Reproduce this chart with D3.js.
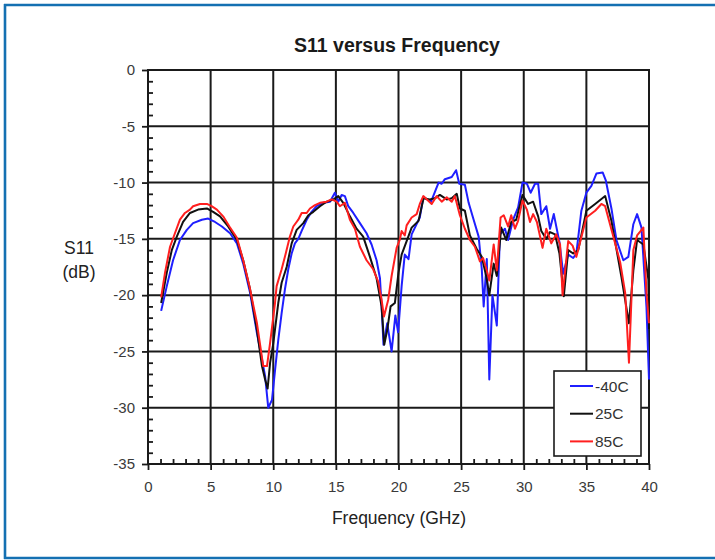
<!DOCTYPE html>
<html><head><meta charset="utf-8">
<script src="https://cdn.jsdelivr.net/npm/d3@7"></script>
<style>
html,body{margin:0;padding:0;background:#fff;}
svg{display:block;}
text{font-family:"Liberation Sans",Arial,sans-serif;}
</style></head>
<body>
<svg id="chart" width="715" height="560"></svg>
<script>
// ---------- data ----------
const seriesNames = ["-40C", "25C", "85C"];
const seriesColors = ["#1f1fff", "#111111", "#ff1f1f"];

const freqM40 = [1.05,1.5,2.0,2.55,3.1,3.6,4.3,4.8,5.35,5.9,6.55,7.1,7.6,8.15,8.7,9.1,9.35,9.6,9.9,10.15,10.4,10.67,10.93,11.2,11.47,11.73,12.0,12.27,12.67,13.06,13.46,13.99,14.53,14.92,15.19,15.46,15.72,15.99,16.39,16.92,17.45,17.85,18.25,18.52,18.7,18.8,19.1,19.45,19.75,19.97,20.25,20.5,20.8,21.05,21.7,21.98,22.6,23.2,23.45,23.7,24.25,24.6,24.85,25.3,25.6,26.0,26.4,26.65,26.8,27.05,27.25,27.5,27.85,28.1,28.5,28.75,29.15,29.55,29.9,30.25,30.55,30.9,31.15,31.4,31.8,32.1,32.4,32.85,33.15,33.55,33.95,34.2,34.6,35.0,35.4,35.8,36.3,36.55,37.0,37.4,37.95,38.35,38.75,39.05,39.4,39.8,40.0];
const s11M40  = [-21.4,-19.2,-16.9,-15.1,-14.2,-13.6,-13.3,-13.2,-13.5,-13.9,-14.5,-15.4,-17.2,-19.8,-23.4,-25.7,-27.2,-30.0,-29.3,-26.6,-24.0,-21.6,-19.5,-17.7,-16.3,-15.4,-15.0,-14.3,-13.3,-12.6,-12.1,-11.8,-11.7,-10.9,-11.7,-11.1,-11.2,-12.1,-12.7,-13.6,-14.5,-15.5,-16.9,-18.5,-22.0,-24.4,-22.5,-25.0,-21.8,-23.3,-19.2,-16.4,-16.8,-14.6,-13.1,-11.3,-11.7,-10.0,-10.1,-9.7,-9.5,-8.9,-10.1,-10.2,-11.8,-13.3,-14.8,-17.7,-21.0,-16.8,-27.5,-20.0,-22.7,-14.6,-14.1,-15.1,-13.3,-12.2,-10.0,-10.1,-10.9,-10.1,-10.1,-12.8,-12.1,-14.1,-12.8,-15.3,-18.1,-16.4,-16.7,-16.3,-12.5,-10.9,-10.3,-9.2,-9.1,-9.8,-12.3,-15.1,-16.9,-16.6,-13.7,-12.8,-14.0,-21.1,-27.5];

const freq25 = [1.05,1.5,1.9,2.3,2.8,3.35,4.0,4.7,5.2,5.75,6.4,7.1,7.6,8.15,8.7,9.1,9.35,9.55,9.75,10.0,10.4,10.67,11.07,11.47,11.87,12.4,12.8,13.2,13.73,14.26,14.79,15.19,15.59,16.12,16.65,17.18,17.72,18.25,18.65,18.86,19.1,19.37,19.71,20.0,20.25,20.65,21.05,21.6,22.0,22.5,22.9,23.3,23.85,24.25,24.65,24.9,25.3,25.7,26.25,26.65,27.0,27.25,27.6,27.85,28.2,28.6,29.0,29.4,29.9,30.35,30.75,31.15,31.4,31.8,32.1,32.5,32.85,33.2,33.55,33.95,34.35,35.0,35.7,36.5,37.0,37.8,38.4,38.75,39.05,39.55,39.95,40.0];
const s1125  = [-20.7,-18.0,-16.0,-14.8,-13.5,-12.7,-12.4,-12.3,-12.6,-13.0,-13.9,-15.1,-16.9,-19.5,-23.1,-26.3,-27.5,-28.3,-26.0,-24.3,-20.7,-18.9,-17.5,-15.4,-14.2,-13.6,-12.9,-12.6,-12.1,-11.7,-11.5,-11.2,-11.8,-13.0,-14.1,-14.8,-16.6,-18.5,-21.0,-24.4,-23.1,-21.0,-20.7,-18.0,-16.4,-15.2,-14.0,-13.4,-11.4,-11.5,-11.4,-11.1,-11.5,-11.4,-11.0,-12.3,-12.5,-14.7,-15.9,-16.6,-18.3,-20.0,-17.2,-18.3,-14.0,-15.1,-13.5,-13.3,-11.1,-11.9,-11.7,-13.0,-14.3,-15.0,-14.4,-14.6,-16.3,-20.1,-16.0,-16.3,-16.0,-12.5,-11.9,-11.2,-13.4,-18.4,-22.5,-17.8,-15.1,-15.5,-18.6,-23.0];

const freq85 = [1.05,1.36,1.76,2.15,2.55,2.95,3.35,3.6,4.15,4.7,5.08,5.5,6.0,6.5,7.1,7.6,8.1,8.7,9.2,9.5,9.74,10.14,10.27,10.67,10.93,11.33,11.6,12.0,12.27,12.67,12.93,13.33,13.73,14.26,14.66,15.06,15.32,15.72,16.12,16.52,16.92,17.45,17.98,18.38,18.65,18.84,19.18,19.45,19.85,20.1,20.25,20.5,20.65,21.05,21.45,21.7,21.98,22.65,23.05,23.45,23.85,24.25,24.5,24.9,25.3,25.7,26.1,26.5,26.75,27.0,27.25,27.6,27.85,28.15,28.4,28.75,29.0,29.3,29.55,29.9,30.25,30.5,30.75,31.05,31.5,31.8,32.2,32.6,32.9,33.1,33.55,33.9,34.2,35.0,35.7,36.2,36.5,37.15,37.7,38.1,38.4,38.75,39.05,39.55,39.8,40.0];
const s1185  = [-20.2,-18.0,-15.7,-14.5,-13.3,-12.7,-12.4,-12.1,-11.9,-11.9,-12.1,-12.4,-13.0,-13.9,-14.9,-16.9,-19.2,-22.5,-26.3,-26.3,-24.3,-20.7,-19.2,-17.7,-16.6,-14.8,-13.9,-13.3,-12.7,-12.7,-12.3,-12.0,-11.8,-11.7,-11.5,-11.7,-12.1,-11.8,-13.3,-14.1,-15.7,-16.9,-17.7,-18.8,-20.4,-21.9,-20.4,-18.3,-15.8,-15.1,-14.3,-14.7,-13.8,-13.1,-12.8,-11.9,-11.2,-11.9,-11.2,-11.7,-11.3,-11.7,-11.2,-12.9,-14.1,-15.1,-15.7,-17.0,-16.7,-17.6,-18.7,-15.5,-17.8,-13.1,-12.9,-13.9,-12.9,-14.1,-13.4,-11.6,-12.4,-13.5,-12.8,-13.5,-15.8,-14.1,-15.4,-14.6,-15.5,-20.0,-15.2,-15.6,-16.6,-13.1,-12.5,-11.9,-12.1,-14.8,-17.1,-19.8,-26.0,-16.0,-14.7,-14.0,-19.8,-22.5];

const xTicks = [0,5,10,15,20,25,30,35,40];
const yTicks = [0,-5,-10,-15,-20,-25,-30,-35];
const titleText = "S11 versus Frequency";
const xLabel = "Frequency (GHz)";
const yLabel1 = "S11";
const yLabel2 = "(dB)";

// ---------- drawing ----------
const svg = d3.select("#chart");
const L = 148, R = 649, T = 70, B = 464;
const x = d3.scaleLinear().domain([0, 40]).range([L, R]);
const y = d3.scaleLinear().domain([0, -35]).range([T, B]);
const fmt = d => String(d);

// outer frame (left, top, bottom in blue)
const frame = "#1470b2";
svg.append("line").attr("x1",5).attr("x2",5).attr("y1",4).attr("y2",559).attr("stroke",frame).attr("stroke-width",2.6);
svg.append("line").attr("x1",4).attr("x2",715).attr("y1",5).attr("y2",5).attr("stroke",frame).attr("stroke-width",2.6);
svg.append("line").attr("x1",4).attr("x2",715).attr("y1",558).attr("y2",558).attr("stroke",frame).attr("stroke-width",2.6);

// title
svg.append("text").attr("x",397).attr("y",52).attr("text-anchor","middle")
  .attr("font-size",19.5).attr("font-weight","bold").attr("fill","#1a1a1a").text(titleText);

// gridlines
const grid = svg.append("g");
grid.selectAll("line.v").data(xTicks.slice(1,-1)).enter().append("line")
  .attr("x1",d=>x(d)).attr("x2",d=>x(d)).attr("y1",T).attr("y2",B)
  .attr("stroke","#1a1a1a").attr("stroke-width",2);
grid.selectAll("line.h").data(yTicks.slice(1,-1)).enter().append("line")
  .attr("x1",L).attr("x2",R).attr("y1",d=>y(d)).attr("y2",d=>y(d))
  .attr("stroke","#1a1a1a").attr("stroke-width",2);

// plot border
svg.append("rect").attr("x",L).attr("y",T).attr("width",R-L).attr("height",B-T)
  .attr("fill","none").attr("stroke","#1a1a1a").attr("stroke-width",2);

// axes
const xAxis = svg.append("g").attr("transform",`translate(0,${B})`)
  .call(d3.axisBottom(x).tickValues(xTicks).tickSize(6).tickPadding(11).tickFormat(fmt));
const xMinor = svg.append("g").attr("transform",`translate(0,${B})`)
  .call(d3.axisTop(x).tickValues(d3.range(0,41,1).filter(d=>d%5)).tickSize(5).tickFormat(""));
const yAxis = svg.append("g").attr("transform",`translate(${L},0)`)
  .call(d3.axisLeft(y).tickValues(yTicks).tickSize(6).tickPadding(7).tickFormat(fmt));
const yMinor = svg.append("g").attr("transform",`translate(${L},0)`)
  .call(d3.axisRight(y).tickValues(d3.range(0,-36,-1).filter(d=>d%5)).tickSize(5).tickFormat(""));
[xAxis,xMinor,yAxis,yMinor].forEach(g=>{
  g.select(".domain").remove();
  g.selectAll(".tick line").attr("stroke","#1a1a1a").attr("stroke-width",1.8);
  g.selectAll("text").attr("font-size",15).attr("fill","#3a3a3a")
   .attr("font-family","'Liberation Sans',Arial,sans-serif");
});

// axis labels
svg.append("text").attr("x",399).attr("y",524).attr("text-anchor","middle")
  .attr("font-size",17.5).attr("fill","#222").text(xLabel);
svg.append("text").attr("x",79).attr("y",254).attr("text-anchor","middle")
  .attr("font-size",17.5).attr("fill","#222").text(yLabel1);
svg.append("text").attr("x",79).attr("y",278).attr("text-anchor","middle")
  .attr("font-size",17.5).attr("fill","#222").text(yLabel2);

// series
const series = [
  {name:seriesNames[0], color:seriesColors[0], f:freqM40, v:s11M40},
  {name:seriesNames[1], color:seriesColors[1], f:freq25, v:s1125},
  {name:seriesNames[2], color:seriesColors[2], f:freq85, v:s1185}
];
const line = d3.line().x(d=>x(d[0])).y(d=>y(d[1]));
const plot = svg.append("g");
series.forEach(s=>{
  plot.append("path").datum(s.f.map((f,i)=>[f,s.v[i]]))
    .attr("d",line).attr("fill","none").attr("stroke",s.color)
    .attr("stroke-width",2).attr("stroke-linejoin","round");
});

// legend
const lg = svg.append("g");
lg.append("rect").attr("x",554).attr("y",371).attr("width",87).attr("height",85)
  .attr("fill","#fff").attr("stroke","#1a1a1a").attr("stroke-width",1.6);
series.forEach((s,i)=>{
  const ly = 386 + i*27.7;
  lg.append("line").attr("x1",570).attr("x2",593).attr("y1",ly).attr("y2",ly)
    .attr("stroke",s.color).attr("stroke-width",2);
  lg.append("text").attr("x",595).attr("y",ly+5.5).attr("font-size",15.5).attr("fill","#333").text(s.name);
});
</script>
</body></html>
